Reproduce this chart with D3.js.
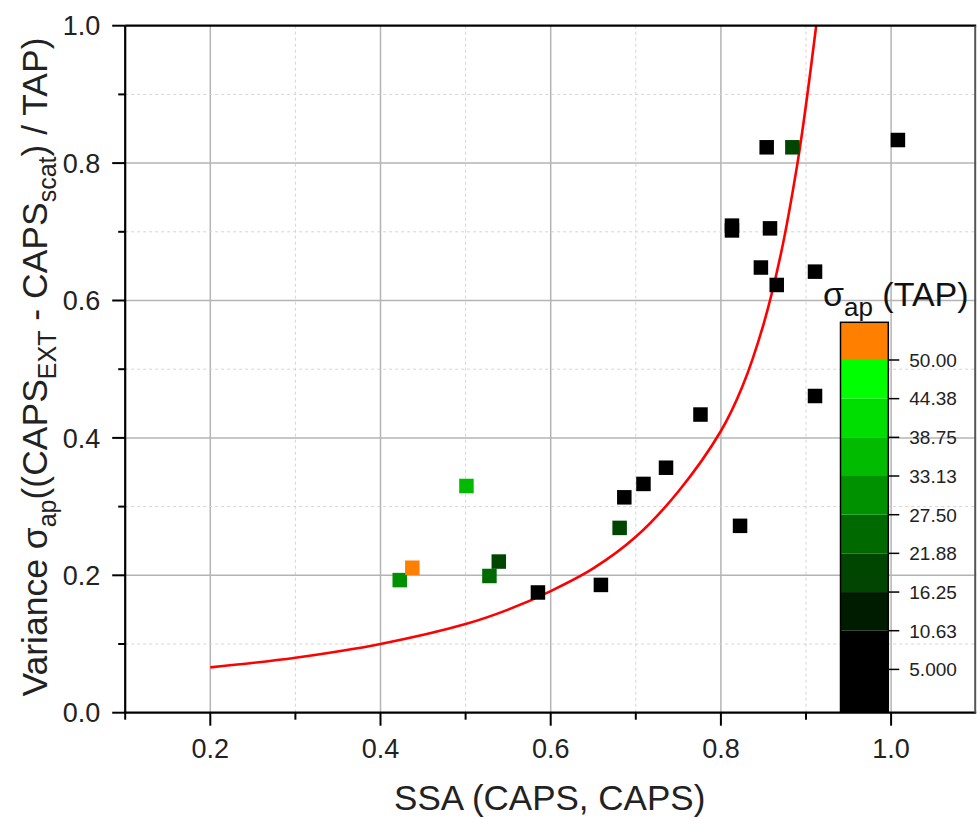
<!DOCTYPE html>
<html>
<head>
<meta charset="utf-8">
<script src="https://cdn.jsdelivr.net/npm/d3@7"></script>
<style>
  html, body { margin: 0; padding: 0; background: #fff; }
  svg { display: block; font-family: "Liberation Sans", Arial, sans-serif; }
</style>
</head>
<body>
<svg id="chart" width="977" height="819"></svg>
<script>
// ---------- data ----------
const ssa      = [0.4226, 0.4374, 0.501, 0.528, 0.539, 0.585, 0.659, 0.681, 0.6865, 0.709, 0.7355, 0.776, 0.8225, 0.813, 0.813, 0.8577, 0.847, 0.9106, 0.8656, 0.8538, 0.884, 1.008, 0.9106];
const variance = [0.193, 0.211, 0.330, 0.199, 0.220, 0.175, 0.186, 0.269, 0.3135, 0.333, 0.3566, 0.434, 0.272, 0.709, 0.702, 0.705, 0.648, 0.642, 0.6226, 0.823, 0.823, 0.8336, 0.461];
const sigmaTap = [30, 52, 36, 24, 19, 5, 5, 19, 5, 5, 5, 5, 5, 5, 5, 5, 5, 5, 5, 5, 19, 5, 5];

const fitX = [0.2, 0.3, 0.4, 0.5, 0.55, 0.6, 0.65, 0.7, 0.75, 0.8, 0.825, 0.85, 0.87, 0.89, 0.9, 0.912];
const fitY = [0.066, 0.080, 0.100, 0.129, 0.150, 0.177, 0.210, 0.256, 0.322, 0.410, 0.474, 0.565, 0.665, 0.800, 0.885, 1.0];

const xTickValues = [0.2, 0.4, 0.6, 0.8, 1.0];
const xMinorValues = [0.1, 0.3, 0.5, 0.7, 0.9];
const yTickValues = [0.0, 0.2, 0.4, 0.6, 0.8, 1.0];
const yMinorValues = [0.1, 0.3, 0.5, 0.7, 0.9];

const cbBreaks = [10.63, 16.25, 21.88, 27.50, 33.13, 38.75, 44.38, 50.00];
const cbColors = ["#000000", "#001c00", "#004500", "#006a00", "#009100", "#00bb00", "#00dd00", "#00ff00", "#ff8000"];
const cbTickValues = [5.0, 10.63, 16.25, 21.88, 27.50, 33.13, 38.75, 44.38, 50.00];
const cbTickLabels = ["5.000", "10.63", "16.25", "21.88", "27.50", "33.13", "38.75", "44.38", "50.00"];

// ---------- layout ----------
const svg = d3.select("#chart");
const L = 125.2, R = 976.2, T = 25.7, B = 712.7;
const x = d3.scaleLinear().domain([0.1, 1.1]).range([L, R]);
const y = d3.scaleLinear().domain([0, 1]).range([B, T]);
const color = d3.scaleThreshold().domain(cbBreaks).range(cbColors);

// grid
const grid = svg.append("g");
grid.selectAll(".gxm").data(xTickValues).join("line")
  .attr("x1", d => x(d)).attr("x2", d => x(d)).attr("y1", T).attr("y2", B)
  .attr("stroke", "#b4b4b4").attr("stroke-width", 1.5);
grid.selectAll(".gxn").data(xMinorValues.filter(d => d > 0.1)).join("line")
  .attr("x1", d => x(d)).attr("x2", d => x(d)).attr("y1", T).attr("y2", B)
  .attr("stroke", "#d4d4d4").attr("stroke-width", 1).attr("stroke-dasharray", "3,3");
grid.selectAll(".gym").data(yTickValues.filter(d => d > 0 && d < 1)).join("line")
  .attr("x1", L).attr("x2", R).attr("y1", d => y(d)).attr("y2", d => y(d))
  .attr("stroke", "#b4b4b4").attr("stroke-width", 1.5);
grid.selectAll(".gyn").data(yMinorValues).join("line")
  .attr("x1", L).attr("x2", R).attr("y1", d => y(d)).attr("y2", d => y(d))
  .attr("stroke", "#d4d4d4").attr("stroke-width", 1).attr("stroke-dasharray", "3,3");

// clip
svg.append("clipPath").attr("id", "clip").append("rect")
  .attr("x", L).attr("y", T).attr("width", R - L).attr("height", B - T);

// fit curve
const line = d3.line().x((d, i) => x(fitX[i])).y((d, i) => y(fitY[i])).curve(d3.curveCatmullRom.alpha(0.5));
svg.append("path").datum(fitX).attr("d", line)
  .attr("fill", "none").attr("stroke", "#ff0000").attr("stroke-width", 2.6)
  .attr("clip-path", "url(#clip)");

// points
const S = 14.5;
svg.append("g").selectAll("rect").data(ssa).join("rect")
  .attr("x", (d, i) => x(ssa[i]) - S / 2)
  .attr("y", (d, i) => y(variance[i]) - S / 2)
  .attr("width", S).attr("height", S)
  .attr("fill", (d, i) => color(sigmaTap[i]));

// axes
const ax = svg.append("g").attr("stroke", "#000");
ax.append("line").attr("x1", L).attr("x2", L).attr("y1", T).attr("y2", B + 1).attr("stroke-width", 2.2);
ax.append("line").attr("x1", L - 1).attr("x2", R).attr("y1", B).attr("y2", B).attr("stroke-width", 2.2);
ax.append("line").attr("x1", L).attr("x2", R).attr("y1", T).attr("y2", T).attr("stroke-width", 2.2);
ax.append("line").attr("x1", R - 1).attr("x2", R - 1).attr("y1", T).attr("y2", B).attr("stroke-width", 2).attr("stroke", "#555");

// x ticks
ax.selectAll(".xt").data(xTickValues).join("line")
  .attr("x1", d => x(d)).attr("x2", d => x(d)).attr("y1", B).attr("y2", B + 13).attr("stroke-width", 2);
ax.selectAll(".xtm").data(xMinorValues).join("line")
  .attr("x1", d => x(d)).attr("x2", d => x(d)).attr("y1", B).attr("y2", B + 7).attr("stroke-width", 2);
// y ticks
ax.selectAll(".yt").data(yTickValues).join("line")
  .attr("x1", L - 13).attr("x2", L).attr("y1", d => y(d)).attr("y2", d => y(d)).attr("stroke-width", 2);
ax.selectAll(".ytm").data(yMinorValues).join("line")
  .attr("x1", L - 7).attr("x2", L).attr("y1", d => y(d)).attr("y2", d => y(d)).attr("stroke-width", 2);

// tick labels
svg.append("g").selectAll("text").data(xTickValues).join("text")
  .attr("x", d => x(d)).attr("y", B + 45)
  .attr("text-anchor", "middle").attr("font-size", 27).attr("fill", "#222")
  .text(d => d3.format(".1f")(d));
svg.append("g").selectAll("text").data(yTickValues).join("text")
  .attr("x", L - 25).attr("y", d => y(d)).attr("dy", "0.36em")
  .attr("text-anchor", "end").attr("font-size", 27).attr("fill", "#222")
  .text(d => d3.format(".1f")(d));

// axis titles
svg.append("text").attr("x", (L + R) / 2 - 1).attr("y", 810)
  .attr("text-anchor", "middle").attr("font-size", 35).attr("fill", "#222")
  .text("SSA (CAPS, CAPS)");

const yt = svg.append("text").attr("transform", "translate(47,367) rotate(-90)")
  .attr("text-anchor", "middle").attr("font-size", 35.5).attr("fill", "#222");
yt.append("tspan").text("Variance σ");
yt.append("tspan").attr("font-size", 25).attr("dy", 9).text("ap");
yt.append("tspan").attr("dy", -9).text("((CAPS");
yt.append("tspan").attr("font-size", 25).attr("dy", 9).text("EXT");
yt.append("tspan").attr("dy", -9).text(" - CAPS");
yt.append("tspan").attr("font-size", 25).attr("dy", 9).text("scat");
yt.append("tspan").attr("dy", -9).text(") / TAP)");

// colorbar
const cbL = 840.5, cbR = 888.3;
const cbScale = d3.scaleLinear().domain([10.63, 50.0]).range([630.7, 360.0]);
const cbTop = 322.3, cbBot = 711.7;
const edges = [cbBot].concat(cbBreaks.map(v => cbScale(v))).concat([cbTop]);
const cb = svg.append("g");
cb.selectAll("rect").data(cbColors).join("rect")
  .attr("x", cbL).attr("width", cbR - cbL)
  .attr("y", (d, i) => edges[i + 1])
  .attr("height", (d, i) => edges[i] - edges[i + 1])
  .attr("fill", d => d);
cb.append("rect").attr("x", cbL).attr("y", cbTop).attr("width", cbR - cbL).attr("height", cbBot - cbTop)
  .attr("fill", "none").attr("stroke", "#000").attr("stroke-width", 1.5);
cb.selectAll(".cbt").data(cbTickValues).join("line")
  .attr("x1", cbR).attr("x2", cbR + 11).attr("y1", d => cbScale(d)).attr("y2", d => cbScale(d))
  .attr("stroke", "#000").attr("stroke-width", 1.5);
cb.selectAll(".cbl").data(cbTickValues).join("text")
  .attr("x", cbR + 21).attr("y", d => cbScale(d)).attr("dy", "0.36em")
  .attr("font-size", 19).attr("fill", "#222")
  .text((d, i) => cbTickLabels[i]);

const ct = svg.append("text").attr("x", 823).attr("y", 306).attr("font-size", 34).attr("fill", "#111");
ct.append("tspan").text("σ");
ct.append("tspan").attr("font-size", 26).attr("dy", 10).text("ap");
ct.append("tspan").attr("dy", -10).text(" (TAP)");
</script>
</body>
</html>
